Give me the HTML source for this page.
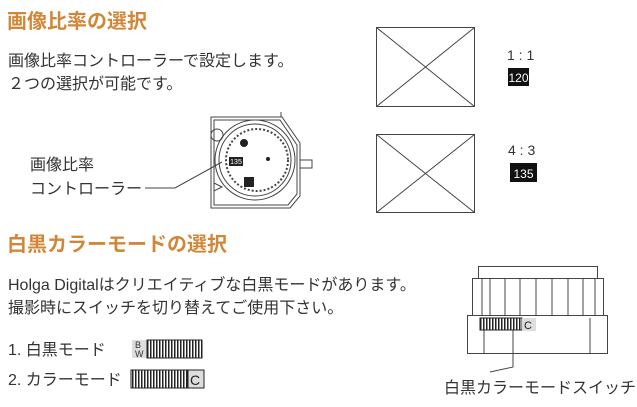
<!DOCTYPE html>
<html><head><meta charset="utf-8"><style>
html,body{margin:0;padding:0;background:#fff;}
svg{display:block;font-family:"Liberation Sans","Noto Sans CJK JP",sans-serif;}
</style></head><body>
<svg width="637" height="407" viewBox="0 0 637 407" xmlns="http://www.w3.org/2000/svg">
<defs>
<pattern id="rib" width="3" height="10" patternUnits="userSpaceOnUse"><rect width="3" height="10" fill="#fff"/><rect width="1.5" height="10" fill="#222"/></pattern>
</defs>
<g fill="#d08838" font-weight="bold" font-size="20">
<text x="7" y="28">画像比率の選択</text>
<text x="7" y="251">白黒カラーモードの選択</text>
</g>
<g fill="#333" font-size="16">
<text x="8" y="66">画像比率コントローラーで設定します。</text>
<text x="8" y="89">２つの選択が可能です。</text>
<text x="30" y="170">画像比率</text>
<text x="30" y="194">コントローラー</text>
<text x="8" y="290">Holga Digitalはクリエイティブな白黒モードがあります。</text>
<text x="8" y="313">撮影時にスイッチを切り替えてご使用下さい。</text>
<text x="8" y="355">1. 白黒モード</text>
<text x="8" y="385">2. カラーモード</text>
<text x="444" y="393">白黒カラーモードスイッチ</text>
<text x="507" y="60" font-size="14">1 : 1</text>
<text x="508" y="155" font-size="14">4 : 3</text>
</g>
<g stroke="#444" fill="none" stroke-width="1">
<rect x="376.5" y="27.5" width="98" height="79"/><path d="M376.5 27.5L474.5 106.5M474.5 27.5L376.5 106.5"/>
<rect x="376.5" y="134.5" width="98" height="78"/><path d="M376.5 134.5L474.5 212.5M474.5 134.5L376.5 212.5"/>
</g>
<rect x="508" y="68" width="21" height="18" fill="#111"/><text x="518.5" y="82" fill="#fff" font-size="12" text-anchor="middle">120</text>
<rect x="510" y="163" width="27" height="19" fill="#111"/><text x="523.5" y="178" fill="#fff" font-size="12" text-anchor="middle">135</text>
<g stroke="#444" fill="none" stroke-width="1">
<path d="M211 208V117H282L300 143V196L290 208Z"/>
<path d="M214 205V120H280L297 145V194L288 205Z"/>
<path d="M281 117V112"/>
<rect x="300" y="160" width="12" height="8"/>
<circle cx="255" cy="160" r="40"/>
<circle cx="255" cy="160" r="36"/>
<circle cx="257" cy="160" r="31" stroke-dasharray="2 2" stroke-width="2"/>
<circle cx="217" cy="135" r="6"/>
<path d="M214 183l8 4-8 4z"/>
<path d="M145 188H175L222 162"/>
</g>
<circle cx="244" cy="143" r="4" fill="#222"/>
<circle cx="268" cy="159" r="2" fill="#222"/>
<rect x="229" y="157" width="14" height="9" fill="#222"/><text x="236" y="164" fill="#fff" font-size="7" text-anchor="middle">135</text>
<rect x="244" y="177" width="10" height="10" fill="#222"/>
<rect x="132" y="340" width="15" height="18" fill="#ddd"/>
<text x="135" y="348" font-size="9" fill="#333">B</text><text x="135" y="357" font-size="9" fill="#333">W</text>
<rect x="147" y="340" width="55" height="18" fill="url(#rib)" stroke="#222"/>
<rect x="131" y="370" width="57" height="18" fill="url(#rib)" stroke="#222"/>
<rect x="188" y="370" width="16" height="18" fill="#ddd" stroke="#222"/>
<text x="190" y="385" font-size="14" fill="#222">C</text>
<g stroke="#444" fill="none">
<rect x="478.5" y="266.5" width="119" height="12"/>
<rect x="472.5" y="278.5" width="131" height="37"/>
<path d="M482 279v36M490 279v36M505 279v36M520 279v36M536 279v36M552 279v36M568 279v36M583 279v36M595 279v36"/>
<rect x="467.5" y="315.5" width="140" height="38"/>
<path d="M484 318v35M590 318v35"/>
<path d="M513 330V367L490 372"/>
</g>
<rect x="480" y="318" width="42" height="12" fill="url(#rib)" stroke="#222"/>
<rect x="522" y="318" width="14" height="13" fill="#ddd"/>
<text x="524" y="329" font-size="11" fill="#222">C</text>
</svg>
</body></html>
